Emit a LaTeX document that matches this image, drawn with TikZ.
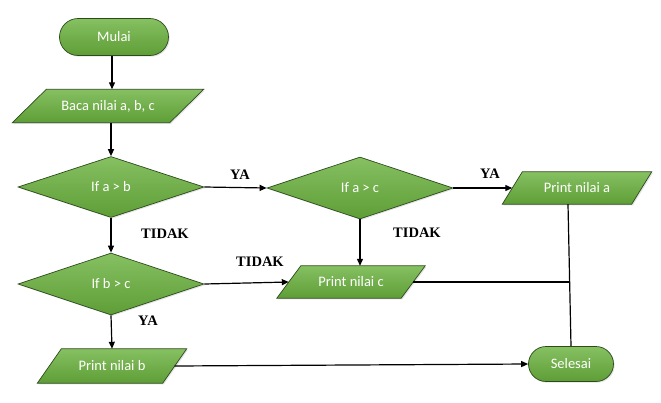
\documentclass[tikz,border=0pt]{standalone}
\usepackage{fontspec}
\setmainfont{Carlito}
\newfontfamily\labfont{Liberation Serif}
\usetikzlibrary{shapes.geometric,shapes.misc,arrows.meta,shadows,backgrounds}
\definecolor{gtop}{HTML}{86C062}
\definecolor{gbot}{HTML}{5E9E36}
\definecolor{gline}{HTML}{2C4A1B}
\newcommand\paraShape[2]{%
  \begin{scope}[on background layer]
  \path[shapefill] ([xshift=-#2]#1.south west) -- ([xshift=-#2]#1.south east)
     -- ([xshift=#2]#1.north east) -- ([xshift=#2]#1.north west) -- cycle;
  \end{scope}}
\begin{document}
\begin{tikzpicture}[x=1pt,y=-1pt,
  shapefill/.style={draw=gline,line width=0.7pt,top color=gtop,bottom color=gbot,
    drop shadow={opacity=0.22,shadow xshift=1.2pt,shadow yshift=-1.2pt}},
  txt/.style={text=white,font=\fontsize{14.5}{16}\selectfont,inner sep=0pt},
  base/.style={shapefill,txt},
  term/.style={base,rounded rectangle,minimum height=#1},
  dec/.style={base,diamond,aspect=3,minimum width=186pt,minimum height=61pt},
  io/.style={txt,rectangle,minimum width=#1},
  conn/.style={line width=1.2pt,-{Triangle[length=7pt,width=6pt]}},
  plain/.style={line width=1.2pt},
  lab/.style={font=\labfont\bfseries\fontsize{14.5}{16}\selectfont,inner sep=0pt}
]
\useasboundingbox (0,0) rectangle (661,402);
% nodes
\node[term=37pt,minimum width=109pt] (mulai) at (114,37) {Mulai};
\node[io=157pt,minimum height=33pt] (baca) at (108,106) {Baca nilai a, b, c};
\paraShape{baca}{17pt}
\node[dec] (ab) at (111,187) {If a > b};
\node[dec,minimum height=62pt] (ac) at (360,188) {If a > c};
\node[io=129pt,minimum height=32pt] (pa) at (577,188) {Print nilai a};
\paraShape{pa}{10pt}
\node[dec,minimum height=62pt] (bc) at (111,284) {If b > c};
\node[io=124pt,minimum height=32pt] (pc) at (351,282) {Print nilai c};
\paraShape{pc}{12pt}
\node[io=125pt,minimum height=34pt] (pb) at (112,366) {Print nilai b};
\paraShape{pb}{12pt}
\node[term=35pt,minimum width=85pt] (selesai) at (571,364) {Selesai};
\coordinate (dn) at ([xshift=-9pt]pa.south);
% connectors
\draw[conn] ([xshift=-2pt]mulai.south) -- ([xshift=-2pt]mulai.south |- baca.north);
\draw[conn] (baca.south -| ab.north) -- (ab.north);
\draw[conn] (ab.east) -- (ac.west);
\draw[conn] (ac.east) -- (pa.west);
\draw[conn] (ac.south) -- (ac.south |- pc.north);
\draw[conn] (ab.south) -- (bc.north);
\draw[conn] (bc.east) -- (pc.west);
\draw[conn] (bc.south) -- (pb.north);
\draw[conn] (pb.east) -- (selesai.west);
\draw[plain] (dn) -- (selesai.north);
\coordinate (jn) at ([xshift=-2pt]pc.east -| selesai.north);
\draw[plain] (pc.east) -- (jn);
% labels
\node[lab] (l1) at (240,175) {YA};
\node[lab] (l2) at (490,174) {YA};
\node[lab] (l3) at (417,233) {TIDAK};
\node[lab] (l4) at (165,234) {TIDAK};
\node[lab] (l5) at (260,262) {TIDAK};
\node[lab] (l6) at (148,321) {YA};
\end{tikzpicture}
\end{document}
